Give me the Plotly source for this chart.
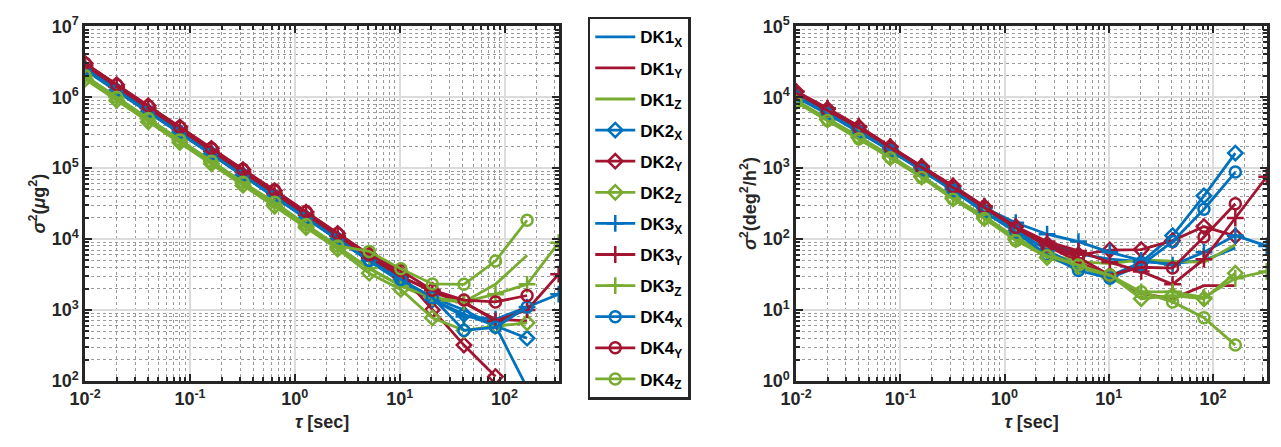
import plotly.graph_objects as go

TAU = [0.01, 0.02, 0.04, 0.08, 0.16, 0.32, 0.64, 1.28, 2.56, 5.12,
       10.24, 20.48, 40.96, 81.92, 163.84, 327.68]

NAMES = ["DK1<sub>X</sub>", "DK1<sub>Y</sub>", "DK1<sub>Z</sub>",
         "DK2<sub>X</sub>", "DK2<sub>Y</sub>", "DK2<sub>Z</sub>",
         "DK3<sub>X</sub>", "DK3<sub>Y</sub>", "DK3<sub>Z</sub>",
         "DK4<sub>X</sub>", "DK4<sub>Y</sub>", "DK4<sub>Z</sub>"]

# accelerometer Allan variance (ug^2)
ACC_DK1X = [2.6e6, 1.3e6, 6.5e5, 3.3e5, 1.65e5, 8.3e4, 4.2e4, 2.1e4, 1.05e4, 5.0e3, 2.6e3, 1.5e3, 1.0e3, 600, 80]
ACC_DK1Y = [2.9e6, 1.45e6, 7.3e5, 3.6e5, 1.8e5, 9.2e4, 4.6e4, 2.3e4, 1.15e4, 5.6e3, 3.0e3, 1.8e3, 1.25e3, 740, 700]
ACC_DK1Z = [1.9e6, 9.5e5, 4.8e5, 2.4e5, 1.2e5, 6.0e4, 3.0e4, 1.5e4, 7.5e3, 3.8e3, 2.2e3, 1.4e3, 1.3e3, 2.3e3, 5.9e3]
ACC_DK2X = [2.5e6, 1.25e6, 6.3e5, 3.2e5, 1.6e5, 8.0e4, 4.0e4, 2.0e4, 1.0e4, 5.0e3, 2.6e3, 1.4e3, 870, 600, 400]
ACC_DK2Y = [3.0e6, 1.5e6, 7.6e5, 3.8e5, 1.9e5, 9.5e4, 4.8e4, 2.4e4, 1.2e4, 6.0e3, 3.2e3, 1.0e3, 320, 115]
ACC_DK2Z = [1.8e6, 9.0e5, 4.5e5, 2.3e5, 1.15e5, 5.7e4, 2.9e4, 1.45e4, 7.2e3, 3.3e3, 1.95e3, 775, 515, 590, 660]
ACC_DK3X = [2.4e6, 1.2e6, 6.1e5, 3.1e5, 1.55e5, 7.8e4, 3.9e4, 1.95e4, 9.8e3, 4.9e3, 2.5e3, 1.4e3, 810, 740, 1.1e3, 1.67e3]
ACC_DK3Y = [2.8e6, 1.4e6, 7.0e5, 3.5e5, 1.75e5, 8.8e4, 4.4e4, 2.2e4, 1.1e4, 5.4e3, 2.9e3, 1.9e3, 1.3e3, 700, 1.0e3, 3.2e3]
ACC_DK3Z = [2.0e6, 1.0e6, 5.0e5, 2.5e5, 1.25e5, 6.2e4, 3.1e4, 1.55e4, 7.7e3, 3.9e3, 2.2e3, 1.5e3, 1.3e3, 1.67e3, 2.3e3, 8.9e3]
ACC_DK4X = [2.5e6, 1.25e6, 6.3e5, 3.2e5, 1.6e5, 8.0e4, 4.0e4, 2.0e4, 1.0e4, 5.0e3, 2.7e3, 1.5e3, 515, 570, 1.1e3]
ACC_DK4Y = [3.0e6, 1.5e6, 7.5e5, 3.8e5, 1.9e5, 9.6e4, 4.9e4, 2.45e4, 1.2e4, 6.0e3, 3.6e3, 1.9e3, 1.38e3, 1.3e3, 1.6e3]
ACC_DK4Z = [2.0e6, 1.0e6, 5.0e5, 2.5e5, 1.25e5, 6.3e4, 3.3e4, 1.6e4, 8.0e3, 6.7e3, 3.8e3, 2.33e3, 2.3e3, 4.9e3, 1.84e4]

# gyroscope Allan variance (deg^2/h^2)
GYR_DK1X = [1.05e4, 6.0e3, 3.3e3, 1.8e3, 950, 500, 260, 145, 90, 62, 52, 48, 45, 50, 75]
GYR_DK1Y = [1.15e4, 6.6e3, 3.7e3, 1.95e3, 1.0e3, 540, 275, 140, 80, 48, 30, 17, 14.5, 22, 22]
GYR_DK1Z = [8.8e3, 4.9e3, 2.7e3, 1.45e3, 770, 380, 205, 100, 62, 48, 45, 51, 49, 47, 83]
GYR_DK2X = [1.05e4, 6.0e3, 3.3e3, 1.8e3, 950, 500, 250, 130, 70, 40, 30, 47, 112, 407, 1630]
GYR_DK2Y = [1.2e4, 6.8e3, 3.8e3, 2.0e3, 1.05e3, 560, 285, 150, 85, 60, 70, 71, 95, 150, 110]
GYR_DK2Z = [8.6e3, 4.8e3, 2.7e3, 1.4e3, 750, 370, 195, 98, 55, 40, 31, 14.4, 16, 14.4, 33]
GYR_DK3X = [1.05e4, 6.0e3, 3.4e3, 1.85e3, 980, 520, 275, 170, 117, 92, 65, 50, 43, 65, 112, 80]
GYR_DK3Y = [1.2e4, 7.0e3, 3.9e3, 2.0e3, 1.05e3, 560, 290, 150, 92, 68, 47, 35, 23, 52, 198, 755]
GYR_DK3Z = [9.0e3, 5.0e3, 2.8e3, 1.5e3, 780, 390, 210, 105, 62, 42, 28, 18, 18, 15, 28, 35]
GYR_DK4X = [1.0e4, 5.8e3, 3.2e3, 1.75e3, 930, 480, 240, 125, 60, 36, 28, 43, 92, 263, 880]
GYR_DK4Y = [1.15e4, 6.6e3, 3.7e3, 1.95e3, 1.02e3, 545, 280, 145, 80, 55, 31, 40, 39, 107, 315]
GYR_DK4Z = [8.5e3, 4.7e3, 2.6e3, 1.4e3, 740, 365, 195, 95, 58, 43, 31, 18, 13, 7.8, 3.2]

ACC = [ACC_DK1X, ACC_DK1Y, ACC_DK1Z, ACC_DK2X, ACC_DK2Y, ACC_DK2Z,
       ACC_DK3X, ACC_DK3Y, ACC_DK3Z, ACC_DK4X, ACC_DK4Y, ACC_DK4Z]
GYR = [GYR_DK1X, GYR_DK1Y, GYR_DK1Z, GYR_DK2X, GYR_DK2Y, GYR_DK2Z,
       GYR_DK3X, GYR_DK3Y, GYR_DK3Z, GYR_DK4X, GYR_DK4Y, GYR_DK4Z]

COLORS = ["#0072BD", "#A2142F", "#77AC30"]
SYMBOLS = [None, "diamond-open", "cross-thin-open", "circle-open"]

FONT = "Liberation Sans, Arial, sans-serif"

fig = go.Figure()

for i, name in enumerate(NAMES):
    col = COLORS[i % 3]
    sym = SYMBOLS[i // 3]
    for vals, xa, ya, show in [(ACC[i], "x", "y", True), (GYR[i], "x2", "y2", False)]:
        kw = dict(mode="lines")
        if sym is not None:
            kw = dict(mode="lines+markers",
                      marker=dict(symbol=sym, size=11 if sym != "cross-thin-open" else 12,
                                  color=col, line=dict(color=col, width=2.5)))
        fig.add_trace(go.Scatter(
            x=TAU[:len(vals)], y=vals, name=name, xaxis=xa, yaxis=ya,
            line=dict(color=col, width=2.8), showlegend=show,
            legendgroup=f"g{i}", cliponaxis=True, **kw))

tickfont = dict(family=FONT, size=18, color="#262626", weight="bold")
titlefont = dict(family=FONT, size=18, color="#262626", weight="bold")
xtv = [0.01, 0.1, 1, 10, 100]
xtt = ["10<sup>-2</sup>", "10<sup>-1</sup>", "10<sup>0</sup>", "10<sup>1</sup>", "10<sup>2</sup>"]

def axis_common():
    return dict(type="log", showline=True, linecolor="#262626", linewidth=2.5,
                mirror="allticks", ticks="inside", ticklen=7, tickwidth=1.5,
                tickcolor="#262626", showgrid=True, gridcolor="#dcdcdc", gridwidth=2,
                tickfont=tickfont, zeroline=False,
                minor=dict(dtick="D1", ticks="inside", ticklen=4, tickcolor="#262626",
                           showgrid=True, gridcolor="#9a9a9a", griddash="dot", gridwidth=1))

YDOM = [1 - 388 / 447, 1 - 15 / 447]

xa1 = axis_common()
xa1.update(domain=[70 / 1281, 550 / 1281], range=[-2, 2.52], tickvals=xtv, ticktext=xtt,
           title=dict(text="<i>τ</i> [sec]", font=titlefont, standoff=8))
xa2 = axis_common()
xa2.update(domain=[790 / 1281, 1267 / 1281], range=[-2, 2.52], tickvals=xtv, ticktext=xtt, anchor="y2",
           title=dict(text="<i>τ</i> [sec]", font=titlefont, standoff=8))
ya1 = axis_common()
ya1.update(domain=YDOM, range=[2, 7],
           tickvals=[1e2, 1e3, 1e4, 1e5, 1e6, 1e7],
           ticktext=["10<sup>2</sup>", "10<sup>3</sup>", "10<sup>4</sup>", "10<sup>5</sup>", "10<sup>6</sup>", "10<sup>7</sup>"],
           title=dict(text="<i>σ</i><sup>2</sup>(<i>μ</i>g<sup>2</sup>)", font=titlefont, standoff=2))
ya2 = axis_common()
ya2.update(domain=YDOM, range=[0, 5], anchor="x2",
           tickvals=[1, 10, 100, 1e3, 1e4, 1e5],
           ticktext=["10<sup>0</sup>", "10<sup>1</sup>", "10<sup>2</sup>", "10<sup>3</sup>", "10<sup>4</sup>", "10<sup>5</sup>"],
           title=dict(text="<i>σ</i><sup>2</sup>(deg<sup>2</sup>/h<sup>2</sup>)", font=titlefont, standoff=2))

fig.update_layout(
    width=1281, height=447, margin=dict(l=0, r=0, t=0, b=0),
    paper_bgcolor="white", plot_bgcolor="white",
    xaxis=xa1, yaxis=ya1, xaxis2=xa2, yaxis2=ya2,
    legend=dict(x=579 / 1281, y=1 - 5 / 447, xanchor="left", yanchor="top",
                bordercolor="#262626", borderwidth=2.5, bgcolor="white",
                font=dict(family=FONT, size=17, color="black", weight="bold"),
                tracegroupgap=6, traceorder="grouped", itemwidth=40),
    showlegend=True,
)

fig.write_html("out.html")
